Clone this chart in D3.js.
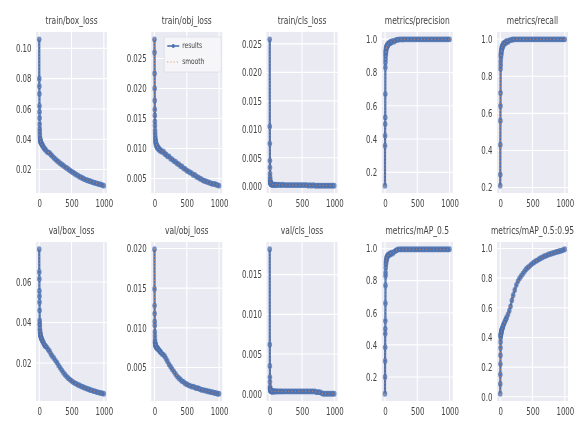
<!DOCTYPE html>
<html><head><meta charset="utf-8">
<script src="https://cdn.jsdelivr.net/npm/d3@7"></script>
<style>
body{margin:0;background:#fff}
text{font-family:"DejaVu Sans",sans-serif;fill:#444}
</style>
</head><body><svg id="c" width="575" height="421"></svg>
<script>
const epochs=[0,1,2,3,4,5,6,7,8,9,10,12,14,16,18,20,23,26,30,35,40,45,50,60,70,80,90,100,120,140,160,180,200,225,250,275,300,325,350,375,400,425,450,475,500,525,550,575,600,625,650,675,700,725,750,775,800,825,850,875,900,925,950,975,999];

const trainBox=[0.106,0.080,0.075,0.070,0.062,0.058,0.054,0.050,0.047,0.045,0.043,0.041,0.040,0.0395,0.039,0.0385,0.038,0.0378,0.0375,0.037,0.0368,0.0362,0.036,0.0352,0.0345,0.0338,0.0335,0.0328,0.0318,0.0312,0.031,0.0298,0.029,0.0278,0.0268,0.0258,0.025,0.024,0.0233,0.0225,0.0216,0.021,0.0202,0.0194,0.0186,0.018,0.0172,0.0166,0.016,0.0152,0.0147,0.0142,0.0136,0.0132,0.0128,0.0124,0.0121,0.0116,0.0113,0.011,0.0107,0.0103,0.0101,0.0097,0.0093];

const trainObj=[0.0282,0.026,0.0225,0.020,0.018,0.0165,0.0155,0.0145,0.0138,0.013,0.0125,0.012,0.0116,0.0114,0.0111,0.0110,0.0107,0.0109,0.0104,0.0106,0.0102,0.0104,0.0100,0.0102,0.0098,0.0099,0.0096,0.0097,0.0094,0.0095,0.0091,0.0090,0.0087,0.0087,0.0083,0.0082,0.0079,0.0078,0.0075,0.0074,0.0071,0.0070,0.0067,0.0066,0.0063,0.0062,0.0060,0.0059,0.0056,0.0056,0.0053,0.0052,0.0050,0.0049,0.0047,0.0046,0.0045,0.0044,0.0043,0.0042,0.0041,0.0041,0.0040,0.0039,0.0038];

const trainCls=[0.0258,0.0105,0.0075,0.0045,0.0033,0.0022,0.0016,0.0012,0.0009,0.0008,0.0007,0.0006,0.0005,0.0005,0.0004,0.0004,0.0004,0.0003,0.0003,0.0003,0.0003,0.0003,0.0003,0.0003,0.0002,0.0003,0.0002,0.0003,0.0002,0.0003,0.0002,0.0002,0.0003,0.0002,0.0002,0.0002,0.0002,0.0002,0.0002,0.0002,0.0002,0.0002,0.0002,0.0002,0.0002,0.0002,0.0002,0.0002,0.0001,0.0002,0.0001,0.0002,0.0001,0.0001,0.0001,0.0001,0.0001,0.0001,0.0001,0.0001,0.0001,0.0001,0.0001,0.0001,0.0001];

const precision=[0.12,0.36,0.42,0.49,0.53,0.67,0.83,0.86,0.90,0.88,0.92,0.93,0.91,0.94,0.95,0.93,0.95,0.96,0.95,0.96,0.97,0.96,0.97,0.975,0.98,0.975,0.985,0.98,0.99,0.985,0.993,0.995,0.997,0.998,0.999,0.998,0.999,0.999,0.999,0.999,0.999,0.999,0.999,0.999,0.999,0.999,0.999,0.999,0.999,0.999,0.999,0.999,0.999,0.999,0.999,0.999,0.999,0.999,0.999,0.999,0.999,0.999,0.999,0.999,0.999];

const recall=[0.21,0.27,0.43,0.56,0.64,0.71,0.84,0.88,0.86,0.91,0.92,0.90,0.93,0.94,0.92,0.95,0.94,0.96,0.95,0.965,0.97,0.96,0.975,0.98,0.975,0.985,0.98,0.99,0.985,0.993,0.995,0.997,0.998,0.999,0.999,0.999,0.999,0.999,0.999,0.999,0.999,0.999,0.999,0.999,0.999,0.999,0.999,0.999,0.999,0.999,0.999,0.999,0.999,0.999,0.999,0.999,0.999,0.999,0.999,0.999,0.999,0.999,0.999,0.999,0.999];

const valBox=[0.0762,0.065,0.0615,0.0556,0.053,0.050,0.046,0.041,0.0395,0.0386,0.037,0.036,0.0352,0.0345,0.034,0.0335,0.0333,0.0328,0.0325,0.032,0.0318,0.0312,0.031,0.0302,0.0298,0.029,0.0285,0.0283,0.0276,0.0266,0.0258,0.0245,0.0235,0.0225,0.0213,0.0202,0.0188,0.0176,0.0164,0.0152,0.0142,0.0133,0.0125,0.0118,0.0112,0.0106,0.0101,0.0097,0.0092,0.0089,0.0085,0.0082,0.0078,0.0075,0.0072,0.0069,0.0066,0.0064,0.0061,0.0059,0.0056,0.0054,0.0052,0.005,0.0048];

const valObj=[0.0199,0.0149,0.0128,0.0118,0.0108,0.0103,0.0095,0.009,0.0085,0.0082,0.0081,0.0080,0.0079,0.0078,0.0078,0.0077,0.0077,0.0076,0.0076,0.0075,0.0075,0.0074,0.0074,0.0073,0.0072,0.0071,0.0070,0.0069,0.0067,0.0066,0.0064,0.0061,0.0058,0.0054,0.0051,0.0048,0.0045,0.0042,0.0039,0.0037,0.0035,0.0033,0.0032,0.0030,0.0029,0.0028,0.0027,0.0026,0.0026,0.0025,0.0024,0.0024,0.0023,0.0022,0.0022,0.0021,0.0021,0.0020,0.0020,0.0019,0.0019,0.0018,0.0018,0.0017,0.0017];

const valCls=[0.0182,0.0062,0.0035,0.0021,0.0015,0.0009,0.0007,0.0006,0.0005,0.0005,0.0004,0.0004,0.0004,0.0004,0.0004,0.0004,0.0003,0.0004,0.0003,0.0003,0.0003,0.0003,0.0003,0.0003,0.0003,0.0003,0.0003,0.0003,0.0003,0.0003,0.0003,0.0003,0.0003,0.0003,0.0003,0.0003,0.0003,0.0003,0.0003,0.0003,0.0003,0.0003,0.0003,0.0003,0.0003,0.0003,0.0003,0.0003,0.0003,0.0003,0.0003,0.0003,0.0003,0.0002,0.0002,0.0002,0.0001,0.0000,0.0000,0.0000,0.0000,0.0000,0.0000,0.0000,0.0000];

const map50=[0.095,0.20,0.30,0.385,0.47,0.50,0.55,0.66,0.77,0.83,0.85,0.88,0.90,0.92,0.91,0.93,0.94,0.93,0.95,0.945,0.955,0.96,0.955,0.965,0.96,0.97,0.965,0.975,0.97,0.98,0.985,0.99,0.995,0.995,0.996,0.995,0.996,0.995,0.996,0.995,0.996,0.995,0.996,0.995,0.996,0.995,0.996,0.995,0.996,0.995,0.996,0.995,0.996,0.995,0.996,0.995,0.996,0.995,0.996,0.995,0.996,0.995,0.996,0.995,0.996];

const map5095=[0.02,0.086,0.15,0.22,0.28,0.33,0.37,0.40,0.41,0.415,0.42,0.425,0.43,0.435,0.44,0.445,0.45,0.455,0.46,0.465,0.47,0.48,0.485,0.495,0.505,0.515,0.525,0.535,0.555,0.58,0.61,0.65,0.685,0.72,0.755,0.78,0.80,0.815,0.83,0.845,0.86,0.87,0.88,0.89,0.90,0.907,0.915,0.92,0.928,0.934,0.94,0.946,0.95,0.955,0.96,0.963,0.967,0.97,0.974,0.977,0.98,0.983,0.986,0.99,0.995];

const titles=["train/box_loss","train/obj_loss","train/cls_loss","metrics/precision","metrics/recall","val/box_loss","val/obj_loss","val/cls_loss","metrics/mAP_0.5","metrics/mAP_0.5:0.95"];
const yTicks=[[0.02,0.04,0.06,0.08,0.10],[0.005,0.010,0.015,0.020,0.025],[0,0.005,0.010,0.015,0.020,0.025],[0.2,0.4,0.6,0.8,1.0],[0.2,0.4,0.6,0.8,1.0],[0.02,0.04,0.06],[0.005,0.010,0.015,0.020],[0,0.005,0.010,0.015],[0.2,0.4,0.6,0.8,1.0],[0,0.2,0.4,0.6,0.8,1.0]];
const yFormats=[".2f",".3f",".3f",".1f",".1f",".2f",".3f",".3f",".1f",".1f"];
const xTicks=[0,500,1000];
const legendLabels=["results","smooth"];

const series=[trainBox,trainObj,trainCls,precision,recall,valBox,valObj,valCls,map50,map5095];

const svg=d3.select("#c");
const defs=svg.append("defs");
defs.append("filter").attr("id","soft").attr("x","-5%").attr("y","-5%").attr("width","110%").attr("height","110%")
  .append("feGaussianBlur").attr("stdDeviation",0.5);
const root=svg.append("g").attr("filter","url(#soft)");
const lefts=[36,151.25,266.5,381.75,497];
const W=71;
const tops=[32,242], Hs=[161,159];
const BLUE="#4c72b0", ORANGE="#dd8452";
const SX=0.9;

series.forEach((vals,i)=>{
  const r=Math.floor(i/5), c=i%5;
  const x0=lefts[c], y0=tops[r], H=Hs[r];
  const g=root.append("g").attr("transform",`translate(${x0},${y0})`);
  const xs=d3.scaleLinear().domain([-0.05*999,999*1.05]).range([0,W]);
  const [mn,mx]=d3.extent(vals); const pad=(mx-mn)*0.05;
  const ys=d3.scaleLinear().domain([mn-pad,mx+pad]).range([H,0]);
  const data=epochs.map((e,k)=>[e,vals[k]]);

  g.append("rect").attr("width",W).attr("height",H).attr("fill","#eaeaf2");
  g.append("g").selectAll("line").data(yTicks[i]).join("line")
    .attr("x1",0).attr("x2",W).attr("y1",d=>ys(d)).attr("y2",d=>ys(d))
    .attr("stroke","#fff").attr("stroke-width",1.1);
  g.append("g").selectAll("line").data(xTicks.filter(t=>xs(t)<=W)).join("line")
    .attr("y1",0).attr("y2",H).attr("x1",d=>xs(d)).attr("x2",d=>xs(d))
    .attr("stroke","#fff").attr("stroke-width",1.1);

  const fy=d3.format(yFormats[i]);
  const ya=g.append("g").call(d3.axisLeft(ys).tickValues(yTicks[i]).tickFormat(fy).tickSize(0).tickPadding(0));
  ya.select(".domain").remove();
  ya.selectAll("text").attr("x",0).attr("dy",null)
    .attr("transform",`translate(-4.5,3.3) scale(${SX},1.25)`)
    .style("font-size","7.8px").style("fill","#444");
  const xa=g.append("g").attr("transform",`translate(0,${H})`).call(d3.axisBottom(xs).tickValues(xTicks).tickFormat(d3.format("d")).tickSize(0).tickPadding(0));
  xa.select(".domain").remove();
  xa.selectAll("text").attr("y",0).attr("dy",null)
    .attr("transform",`translate(0,13.5) scale(${SX},1.25)`)
    .style("font-size","7.8px").style("fill","#444");

  g.append("text").attr("text-anchor","middle")
    .attr("transform",`translate(${W/2},-8) scale(${SX},1.28)`)
    .style("font-size","8.4px").text(titles[i]);

  const line=d3.line().x(d=>xs(d[0])).y(d=>ys(d[1]));
  g.append("path").datum(data).attr("d",line).attr("fill","none")
    .attr("stroke",BLUE).attr("stroke-width",2.2).attr("stroke-linejoin","round");
  g.append("g").selectAll("ellipse").data(data).join("ellipse")
    .attr("cx",d=>xs(d[0])).attr("cy",d=>ys(d[1])).attr("rx",2.3).attr("ry",2.9)
    .attr("fill",BLUE).attr("fill-opacity",0.75);
  const sline=d3.line().x(d=>xs(d[0])).y(d=>ys(d[1])).curve(d3.curveBasis);
  g.append("path").datum(data).attr("d",sline).attr("fill","none")
    .attr("stroke",ORANGE).attr("stroke-width",1).attr("stroke-dasharray","1,2.4");

  if(i===1){
    const lg=g.append("g").attr("transform",`translate(${W-58},5)`);
    lg.append("rect").attr("width",57).attr("height",35).attr("rx",1.5)
      .attr("fill","#f6f6f9").attr("stroke","#d6d6df").attr("stroke-width",0.6);
    legendLabels.forEach((lab,k)=>{
      const yy=9+k*16;
      if(k===0){
        lg.append("line").attr("x1",3).attr("x2",15).attr("y1",yy).attr("y2",yy).attr("stroke",BLUE).attr("stroke-width",1.6);
        lg.append("ellipse").attr("cx",9).attr("cy",yy).attr("rx",1.6).attr("ry",2).attr("fill",BLUE);
      } else {
        lg.append("line").attr("x1",3).attr("x2",15).attr("y1",yy).attr("y2",yy).attr("stroke",ORANGE).attr("stroke-width",1).attr("stroke-dasharray","1,2.2");
      }
      lg.append("text").attr("transform",`translate(18,${yy+2.4}) scale(${SX},1.22)`)
        .style("font-size","6.6px").text(lab);
    });
  }
});
</script></body></html>
